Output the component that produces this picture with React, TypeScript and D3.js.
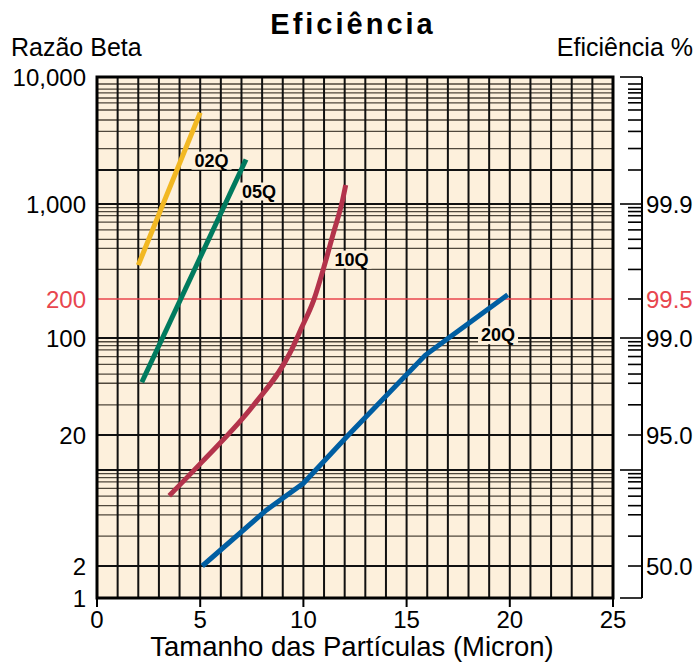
import React from "react";
import * as d3 from "d3";

// Beta ratio knots as printed on the chart paper (the paper is not a pure log scale)
const betaKnots = [1, 2, 10, 20, 100, 200, 1000, 2000, 10000];
const betaKnotPx = [598, 566, 470, 435, 338, 299, 204, 170, 77];

const majorGrid = [10000, 2000, 1000, 100, 20, 10, 2, 1];
const minorGrid = [
  8860, 8100, 7600, 6950, 6400, 5650, 4750, 3900, 2900,
  940, 880, 820, 735, 645, 550, 472, 330,
  94, 88, 82, 73.5, 64.5, 55, 47.2, 33,
  9.4, 8.8, 8.2, 7.35, 6.45, 5.5, 4.72, 3.3,
];
const longTicks = [10000, 1000, 100, 10, 1];

const leftLabels = [
  { v: 10000, t: "10,000" },
  { v: 1000, t: "1,000" },
  { v: 200, t: "200", red: true },
  { v: 100, t: "100" },
  { v: 20, t: "20" },
  { v: 2, t: "2" },
  { v: 1, t: "1" },
];
const rightLabels = [
  { v: 1000, t: "99.9" },
  { v: 200, t: "99.5", red: true },
  { v: 100, t: "99.0" },
  { v: 20, t: "95.0" },
  { v: 2, t: "50.0" },
];

const xTicks = [0, 5, 10, 15, 20, 25];
const xGrid = d3.range(1, 25);

type Pt = [number, number];
const s02Q: Pt[] = [[2.0, 355], [5.0, 5400]];
const s05Q: Pt[] = [[2.17, 48], [7.22, 2400]];
const s10Q: Pt[] = [
  [3.5, 6.5], [5.1, 11.8], [7.6, 33], [9.35, 78], [9.9, 119],
  [10.5, 196], [11.0, 346], [11.45, 608], [11.9, 1085], [12.05, 1470],
];
const s20Q: Pt[] = [
  [5.1, 2], [8.2, 5.1], [10.0, 8.0], [12.1, 19.3], [15.9, 75], [17.1, 102], [19.9, 215],
];

const series = [
  { name: "02Q", data: s02Q, color: "#F2B823", label: [5.55, 2350], curve: d3.curveLinear },
  { name: "05Q", data: s05Q, color: "#007A5E", label: [7.85, 1290], curve: d3.curveLinear },
  { name: "10Q", data: s10Q, color: "#B3334B", label: [12.33, 390], curve: d3.curveMonotoneX },
  { name: "20Q", data: s20Q, color: "#005EA2", label: [19.43, 105], curve: d3.curveLinear },
];

const FONT = "'Liberation Sans', Arial, Helvetica, sans-serif";
const RED = "#E8464E";
const PAPER = "#FDF0DC";

export default function App() {
  const W = 697;
  const H = 665;
  const x = d3.scaleLinear().domain([0, 25]).range([97, 613]);
  const y = d3.scaleLog().domain(betaKnots).range(betaKnotPx);
  const [x0, x1] = x.range();
  const yTop = y(10000);
  const yBot = y(1);
  const axisX = 642;

  return (
    <svg width={W} height={H} style={{ position: "absolute", left: 0, top: 0 }} fontFamily={FONT}>
      <rect x={0} y={0} width={W} height={H} fill="#fff" />
      <text x={353} y={34} textAnchor="middle" fontSize={29} fontWeight="bold" letterSpacing={3}>
        Eficiência
      </text>
      <text x={11} y={56} fontSize={25}>Razão Beta</text>
      <text x={693} y={56} fontSize={25} textAnchor="end">Eficiência %</text>

      {/* plot paper */}
      <rect x={x0} y={yTop} width={x1 - x0} height={yBot - yTop} fill={PAPER} />
      {minorGrid.map((v) => (
        <line key={"m" + v} x1={x0} x2={x1} y1={y(v)} y2={y(v)} stroke="#4f473b" strokeWidth={1.3} />
      ))}
      {majorGrid.map((v) => (
        <line key={"M" + v} x1={x0} x2={x1} y1={y(v)} y2={y(v)} stroke="#111" strokeWidth={2} />
      ))}
      {xGrid.map((v) => (
        <line key={"v" + v} x1={x(v)} x2={x(v)} y1={yTop} y2={yBot} stroke="#111" strokeWidth={2} />
      ))}
      <line x1={x0} x2={x1} y1={y(200)} y2={y(200)} stroke={RED} strokeWidth={1.5} />
      <rect x={x0} y={yTop} width={x1 - x0} height={yBot - yTop} fill="none" stroke="#000" strokeWidth={3} />

      {/* curves */}
      {series.map((s) => {
        const line = d3
          .line<Pt>()
          .x((d) => x(d[0]))
          .y((d) => y(d[1]))
          .curve(s.curve);
        return (
          <path key={s.name} d={line(s.data) || ""} fill="none" stroke={s.color} strokeWidth={5} />
        );
      })}
      {series.map((s) => {
        const cx = x(s.label[0]);
        const cy = y(s.label[1]);
        return (
          <g key={"l" + s.name}>
            <rect x={cx - 20} y={cy - 9} width={40} height={18} fill={PAPER} />
            <text x={cx} y={cy} textAnchor="middle" dominantBaseline="central" fontSize={18} fontWeight="bold">
              {s.name}
            </text>
          </g>
        );
      })}

      {/* x axis */}
      {xTicks.map((v) => (
        <g key={"x" + v}>
          <line x1={x(v)} x2={x(v)} y1={yBot} y2={yBot + 9} stroke="#000" strokeWidth={2} />
          <text x={x(v)} y={628} textAnchor="middle" fontSize={24}>{v}</text>
        </g>
      ))}
      <text x={352} y={656} textAnchor="middle" fontSize={27.5}>
        Tamanho das Partículas (Micron)
      </text>

      {/* left labels */}
      {leftLabels.map((l) => (
        <text key={"L" + l.v} x={86} y={y(l.v)} textAnchor="end" dominantBaseline="central" fontSize={24} fill={l.red ? RED : "#000"}>
          {l.t}
        </text>
      ))}

      {/* right efficiency axis */}
      <line x1={axisX} x2={axisX} y1={yTop} y2={yBot} stroke="#000" strokeWidth={2} />
      {[...majorGrid, ...minorGrid, 200].map((v) => {
        const long = longTicks.includes(v);
        return (
          <line key={"t" + v} x1={long ? 620 : 628} x2={axisX} y1={y(v)} y2={y(v)} stroke="#000" strokeWidth={1.6} />
        );
      })}
      {rightLabels.map((l) => (
        <text key={"R" + l.v} x={646} y={y(l.v)} dominantBaseline="central" fontSize={24} fill={l.red ? RED : "#000"}>
          {l.t}
        </text>
      ))}
    </svg>
  );
}
